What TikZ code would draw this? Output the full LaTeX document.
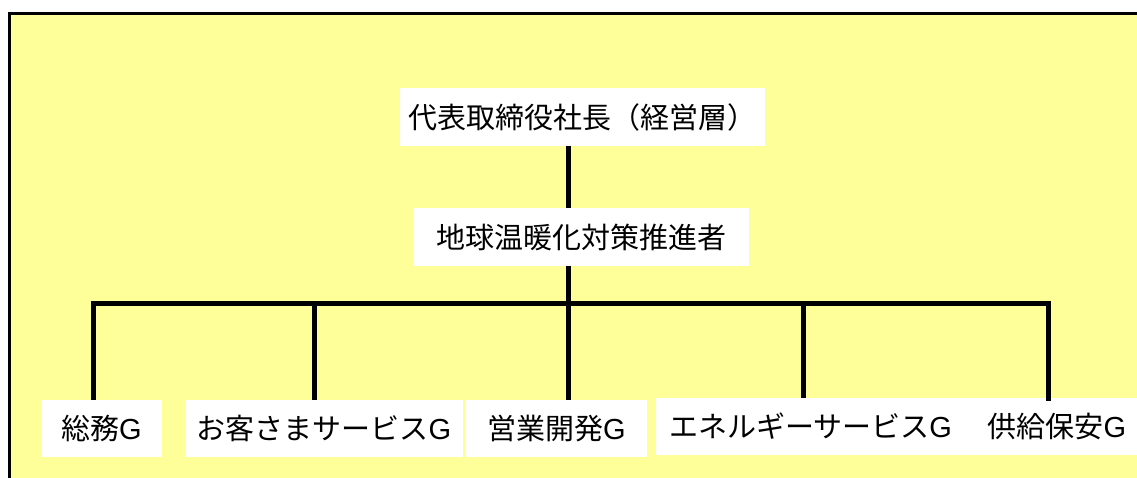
\documentclass[tikz,border=0pt]{standalone}
\usepackage{fontspec}
\setmainfont{Noto Sans CJK JP}
\newfontfamily\latinfont{Liberation Sans}
\newcommand{\gG}{{\latinfont G}}
\definecolor{bgyellow}{HTML}{FFFF99}
\begin{document}
\begin{tikzpicture}[x=1pt,y=-1pt,
  box/.style={fill=white,inner sep=0pt,align=center,
    font=\fontsize{29}{31}\selectfont},
  link/.style={line width=5pt,line join=miter}]
\useasboundingbox (0,0) rectangle (1137,477);
% background
\fill[bgyellow] (9.5,13.5) rectangle (1140,480);
\draw[line width=3pt] (9.5,480) -- (9.5,13.5) -- (1140,13.5);
% nodes
\node[box,minimum width=365pt,minimum height=58pt] (top) at (582.5,117) {代表取締役社長（経営層）};
\node[box,minimum width=336pt,minimum height=58pt] (mid) at (581,237) {地球温暖化対策推進者};
\node[box,minimum width=121pt,minimum height=57pt] (b1) at (101.5,428.5) {総務\gG};
\node[box,minimum width=278pt,minimum height=57pt] (b2) at (324,428.5) {お客さまサービス\gG};
\node[box,minimum width=181pt,minimum height=57pt] (b3) at (556.5,428.5) {営業開発\gG};
\node[box,minimum width=309pt,minimum height=57pt] (b4) at (810.5,426.5) {エネルギーサービス\gG};
\node[box,minimum width=184pt,minimum height=57pt] (b5) at (1057,426.5) {供給保安\gG};
% bus coordinates
\coordinate (v) at (568,303);
\coordinate (d1) at (93,303);
\coordinate (d2) at (314,303);
\coordinate (d4) at (803,303);
\coordinate (d5) at (1048,303);
% connectors
\draw[link] (top.south -| v) -- (mid.north -| v);
\draw[link] (mid.south -| v) -- (b3.north -| v);
\draw[link] (b1.north -| d1) -- (d1) -- (d5) -- ([yshift=-3pt]b5.north -| d5);
\draw[link] (d2) -- (b2.north -| d2);
\draw[link] (d4) -- (b4.north -| d4);
\end{tikzpicture}
\end{document}
